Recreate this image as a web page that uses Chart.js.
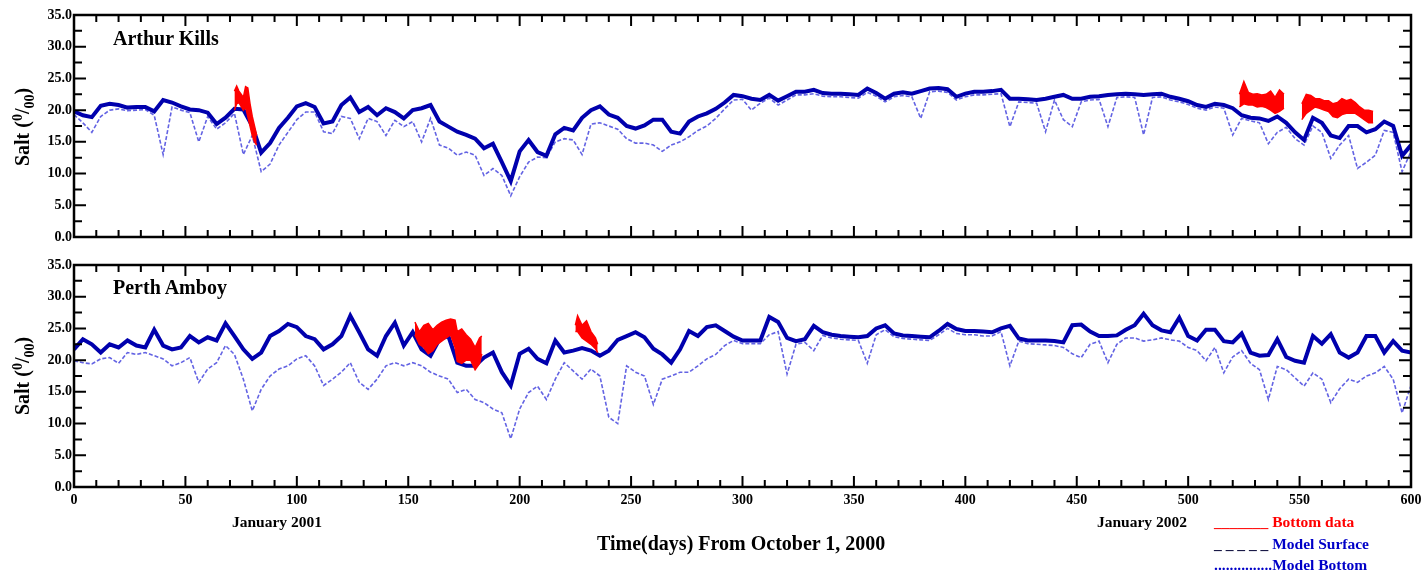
<!DOCTYPE html>
<html lang="en">
<head>
  <meta charset="UTF-8">
  <title>Salinity - Arthur Kills / Perth Amboy</title>
  <script src="https://cdn.jsdelivr.net/npm/chart.js"></script>
  <style>
    body { margin: 0; background: #fff; font-family: "Liberation Serif", "Times New Roman", serif; font-weight: bold; }
    #page { position: relative; width: 1427px; height: 578px; overflow: hidden; }
    canvas { position: absolute; left: 0; }
    .lbl { position: absolute; white-space: nowrap; color: #000; }
    .ytitle { position: absolute; font-size: 20px; white-space: nowrap; transform: translate(-50%, -50%) rotate(-90deg); }
    .ytitle sup, .ytitle sub { font-size: 14px; }
    .panel { position: absolute; font-size: 20px; }
    .leg { position: absolute; font-size: 15.5px; white-space: nowrap; }
  </style>
</head>
<body>
<div id="page">
  <canvas id="topChart" width="1427" height="250" style="top:0"></canvas>
  <canvas id="botChart" width="1427" height="300" style="top:250px"></canvas>

  <div class="ytitle" style="left:24px; top:127px;">Salt (<sup>0</sup>/<sub>00</sub>)</div>
  <div class="ytitle" style="left:24px; top:376px;">Salt (<sup>0</sup>/<sub>00</sub>)</div>
  <div class="panel" style="left:113px; top:27px;">Arthur Kills</div>
  <div class="panel" style="left:113px; top:276px;">Perth Amboy</div>

  <div class="lbl" style="left:232px; top:513px; font-size:15.5px;">January 2001</div>
  <div class="lbl" style="left:1097px; top:513px; font-size:15.5px;">January 2002</div>
  <div class="lbl" style="left:597px; top:532px; font-size:20px;">Time(days) From October 1, 2000</div>

  <div class="leg" style="left:1214px; top:513px; color:#ff0000;">_______ Bottom data</div>
  <div class="leg" style="left:1214px; top:535px; color:#0000c8;"><span style="color:#000033">_ _ _ _ _ </span>Model Surface</div>
  <div class="leg" style="left:1214px; top:556px; color:#0000c8;">...............Model Bottom</div>
</div>

<script>
  // sampling grid for the model curves (every 4 days)
  const gridDays = Array.from({ length: 151 }, (_, i) => i * 4);
  const xTicks = [0, 50, 100, 150, 200, 250, 300, 350, 400, 450, 500, 550, 600];
  const yTicks = [0, 5, 10, 15, 20, 25, 30, 35];

  // Arthur Kills
  const akModelBottom = [
    19.8,19.2,18.9,20.7,21.0,20.8,20.4,20.5,20.5,19.8,
    21.6,21.2,20.6,20.1,20.0,19.6,17.8,18.8,20.2,20.1,
    17.5,13.3,14.8,17.2,18.8,20.6,21.1,20.5,17.9,18.2,
    20.8,22.0,19.7,20.5,19.2,20.3,19.7,18.7,20.0,20.3,
    20.8,18.2,17.4,16.6,16.1,15.5,14.0,14.7,11.8,8.8,
    13.5,15.3,13.4,12.8,16.2,17.2,16.8,18.8,20.0,20.6,
    19.3,18.8,17.5,17.1,17.6,18.5,18.5,16.6,16.3,18.2,
    19.0,19.5,20.2,21.2,22.4,22.2,21.8,21.6,22.4,21.5,
    22.2,22.9,22.9,23.2,22.7,22.6,22.6,22.5,22.4,23.4,
    22.7,21.8,22.6,22.8,22.6,23.0,23.4,23.5,23.3,22.1,
    22.6,22.9,22.9,23.0,23.2,21.8,21.8,21.7,21.6,21.8,
    22.1,22.4,21.8,21.8,22.1,22.2,22.4,22.5,22.6,22.5,
    22.4,22.5,22.6,22.1,21.8,21.4,20.8,20.5,21.0,20.8,
    20.3,19.2,18.8,18.7,18.3,19.0,18.0,16.5,15.3,18.8,
    18.0,16.0,15.6,17.5,17.5,16.5,17.0,18.2,17.5,12.8,
    14.5
  ];
  const akModelSurface = [
    19.3,18.0,16.5,19.0,20.0,20.2,19.9,20.0,20.1,19.2,
    13.0,20.5,20.0,19.6,15.0,19.0,17.0,18.0,19.5,13.0,
    16.0,10.3,11.5,14.5,16.5,18.5,19.7,19.7,16.6,16.3,
    19.0,18.7,15.5,18.7,18.2,16.0,18.4,17.4,18.2,15.0,
    18.7,14.5,14.0,12.9,13.4,12.9,9.7,10.8,9.7,6.5,
    9.5,11.8,12.6,12.5,15.0,15.5,15.3,13.0,17.8,18.0,
    17.5,17.0,15.5,14.8,14.8,14.5,13.5,14.5,15.0,15.8,
    16.8,17.5,18.7,20.2,21.6,21.7,20.0,21.1,21.9,20.8,
    21.6,22.4,22.4,22.6,22.2,22.1,22.1,22.0,21.9,22.8,
    22.2,21.3,22.1,22.3,22.1,18.7,22.9,23.0,22.8,21.6,
    22.1,22.4,22.4,22.5,22.6,17.4,21.3,21.2,21.1,16.6,
    21.6,18.5,17.4,21.3,21.6,21.7,17.4,22.0,22.1,22.0,
    16.1,22.0,22.1,21.6,21.3,20.9,20.3,20.0,20.5,20.3,
    16.1,18.7,18.3,18.0,14.7,16.5,17.3,15.5,14.5,17.5,
    16.5,12.4,14.5,16.0,10.8,11.8,12.9,16.8,16.5,10.3,
    13.5
  ];
  // bottom data: red bands (upper / lower edge)
  const akData1Days = [72,73,74,75,76,77,78,79,80,81,82];
  const akData1Hi   = [23.0,23.8,23.0,22.5,22.0,23.7,23.5,21.0,19.0,17.5,16.0];
  const akData1Lo   = [20.0,21.0,21.2,20.6,20.0,20.5,19.0,17.5,16.0,15.0,14.5];
  const akData2Days = [523,525,527,529,531,533,535,537,539,541,543];
  const akData2Hi   = [22.5,24.5,22.8,22.5,22.6,22.4,22.5,23.0,22.0,23.2,22.5];
  const akData2Lo   = [20.5,21.0,20.8,20.8,20.5,20.6,20.4,20.0,19.5,19.8,20.3];
  const akData3Days = [551,553,555,557,559,561,563,565,567,569,571,573,575,577,579,581,583];
  const akData3Hi   = [21.0,22.5,22.3,21.8,21.8,21.5,21.5,21.0,21.2,21.8,21.5,21.7,21.2,20.5,20.0,20.0,19.8];
  const akData3Lo   = [18.5,19.5,20.0,20.5,20.3,20.0,19.8,19.0,18.8,19.3,19.5,19.5,19.5,19.0,18.5,18.0,18.0];

  // Perth Amboy
  const paModelBottom = [
    21.7,23.3,22.5,21.2,22.5,22.0,23.1,22.3,22.0,24.8,
    22.3,21.7,22.0,23.8,22.8,23.6,23.1,25.8,23.8,21.7,
    20.2,21.2,23.8,24.6,25.7,25.2,23.8,23.3,21.7,22.5,
    23.8,27.0,24.4,21.7,20.7,23.8,25.9,22.3,24.4,21.7,
    20.7,23.3,23.8,19.6,19.1,19.1,20.4,21.2,18.1,16.0,
    21.0,21.8,20.2,19.5,23.1,21.2,21.5,21.9,21.5,20.7,
    21.5,23.2,23.8,24.4,23.6,21.8,20.9,19.6,21.7,24.6,
    23.8,25.2,25.5,24.6,23.7,23.1,23.1,23.1,26.8,26.0,
    23.5,23.0,23.3,25.4,24.4,24.0,23.8,23.7,23.6,23.8,
    25.0,25.5,24.2,23.9,23.8,23.7,23.6,24.6,25.7,24.9,
    24.6,24.6,24.5,24.4,25.0,25.4,23.4,23.1,23.1,23.1,
    23.0,22.8,25.5,25.6,24.5,23.8,23.8,23.9,24.8,25.5,
    27.3,25.5,24.7,24.4,26.7,23.8,23.1,24.8,24.8,23.0,
    22.8,24.2,21.2,20.7,20.8,23.3,20.5,19.9,19.6,23.8,
    22.6,24.1,21.2,20.4,21.2,23.8,23.8,21.2,23.0,21.5,
    21.2
  ];
  const paModelSurface = [
    19.9,19.6,19.4,20.2,20.4,19.5,21.2,20.9,21.2,20.7,
    20.2,19.1,19.6,20.4,16.5,18.6,19.6,22.3,20.9,17.0,
    12.0,15.4,17.5,18.6,19.1,20.2,20.7,19.1,16.0,17.0,
    18.1,19.6,16.5,15.4,17.0,19.1,19.6,19.1,19.6,19.1,
    18.1,17.5,17.0,14.9,15.4,13.8,13.3,12.3,11.7,7.6,
    12.3,14.9,15.9,13.8,17.0,19.6,18.3,17.0,18.6,17.5,
    11.0,10.0,19.1,18.1,17.5,13.0,17.0,17.5,18.1,18.1,
    19.1,20.2,20.9,22.3,23.1,22.6,22.6,22.6,24.0,24.5,
    17.8,22.5,22.8,21.5,23.9,23.5,23.3,23.2,23.1,19.5,
    24.0,24.8,23.7,23.4,23.3,23.2,23.1,24.0,25.0,24.2,
    24.0,24.0,23.8,23.8,24.5,19.1,23.0,22.6,22.5,22.4,
    22.3,22.0,21.0,20.4,22.5,23.0,19.6,22.5,23.5,23.5,
    23.0,23.2,23.5,23.2,23.0,22.0,21.5,19.9,22.0,18.0,
    20.5,21.5,19.5,18.5,13.8,19.0,18.5,17.2,15.9,18.0,
    17.0,13.3,15.5,17.0,16.5,17.5,18.0,19.0,17.0,11.7,
    16.0
  ];
  const paData1Days = [153,155,157,159,161,163,165,167,169,171,172,174,176,178,180,182,183];
  const paData1Hi   = [26.0,24.5,25.5,25.8,24.8,25.5,26.0,26.3,26.5,26.3,24.5,24.9,24.0,23.3,22.0,23.5,23.8];
  const paData1Lo   = [24.0,22.5,22.0,21.0,21.5,22.5,23.0,23.5,24.0,22.0,19.8,19.5,20.0,20.0,18.5,19.5,21.0];
  const paData2Days = [225,226,228,230,232,234,235];
  const paData2Hi   = [25.5,27.0,25.5,26.2,24.5,23.5,22.5];
  const paData2Lo   = [24.5,24.5,23.5,23.0,22.5,21.8,21.2];

  const DARK = '#0000ad';
  const LIGHT = 'rgba(60, 60, 220, 0.8)';
  const RED = '#ff0000';
  const FONT = 'Liberation Serif';

  function pts(days, vals) {
    return days.map((d, i) => ({ x: d, y: vals[i] }));
  }

  function redBand(days, hi, lo) {
    return [
      { data: pts(days, hi), borderColor: RED, borderWidth: 1.5, pointRadius: 0, fill: false, order: 0 },
      { data: pts(days, lo), borderColor: RED, borderWidth: 1.5, pointRadius: 0, backgroundColor: RED, fill: '-1', order: 0 }
    ];
  }

  // box frame with inward tick marks on all four sides
  const frameTicks = {
    id: 'frameTicks',
    afterDraw(chart) {
      const { ctx, chartArea: a, scales: { x, y } } = chart;
      ctx.save();
      ctx.strokeStyle = '#000';
      ctx.lineWidth = 2;
      ctx.beginPath();
      for (let d = 0; d <= 600; d += 10) {
        const px = x.getPixelForValue(d);
        const len = d % 50 === 0 ? 11 : 7;
        ctx.moveTo(px, a.top); ctx.lineTo(px, a.top + len);
        ctx.moveTo(px, a.bottom); ctx.lineTo(px, a.bottom - len);
      }
      for (let v = 0; v <= 35; v += 2.5) {
        const py = y.getPixelForValue(v);
        const len = v % 5 === 0 ? 12 : 8;
        ctx.moveTo(a.left, py); ctx.lineTo(a.left + len, py);
        ctx.moveTo(a.right, py); ctx.lineTo(a.right - len, py);
      }
      ctx.stroke();
      ctx.lineWidth = 2.5;
      ctx.strokeRect(a.left, a.top, a.right - a.left, a.bottom - a.top);
      ctx.restore();
    }
  };

  function makeChart(canvasId, bottom, surface, bands, showX) {
    const datasets = [];
    bands.forEach(b => datasets.push(...redBand(b[0], b[1], b[2])));
    datasets.push({ label: 'Model Bottom', data: pts(gridDays, bottom), borderColor: DARK, borderWidth: 4, pointRadius: 0, fill: false, order: 1 });
    datasets.push({ label: 'Model Surface', data: pts(gridDays, surface), borderColor: LIGHT, borderWidth: 1.6, borderDash: [4, 2], pointRadius: 0, fill: false, order: 2 });

    return new Chart(document.getElementById(canvasId), {
      type: 'line',
      data: { datasets: datasets },
      options: {
        responsive: false,
        animation: false,
        layout: { padding: { top: 15, right: 16, bottom: showX ? 43 : 13, left: 0 } },
        plugins: { legend: { display: false }, tooltip: { enabled: false } },
        scales: {
          x: {
            type: 'linear', min: 0, max: 600,
            afterBuildTicks: s => { s.ticks = xTicks.map(v => ({ value: v })); },
            ticks: { display: showX, color: '#000', padding: 5, maxRotation: 0, font: { family: FONT, size: 14, weight: 'bold' } },
            grid: { display: false, drawTicks: false },
            border: { display: false },
            afterFit: s => { s.height = showX ? 20 : 0; }
          },
          y: {
            min: 0, max: 35,
            afterBuildTicks: s => { s.ticks = yTicks.map(v => ({ value: v })); },
            ticks: { color: '#000', padding: 2, callback: v => v.toFixed(1), font: { family: FONT, size: 14, weight: 'bold' } },
            grid: { display: false, drawTicks: false },
            border: { display: false },
            afterFit: s => { s.width = 74; }
          }
        }
      },
      plugins: [frameTicks]
    });
  }

  makeChart('topChart', akModelBottom, akModelSurface, [
    [akData1Days, akData1Hi, akData1Lo],
    [akData2Days, akData2Hi, akData2Lo],
    [akData3Days, akData3Hi, akData3Lo]
  ], false);

  makeChart('botChart', paModelBottom, paModelSurface, [
    [paData1Days, paData1Hi, paData1Lo],
    [paData2Days, paData2Hi, paData2Lo]
  ], true);
</script>
</body>
</html>
